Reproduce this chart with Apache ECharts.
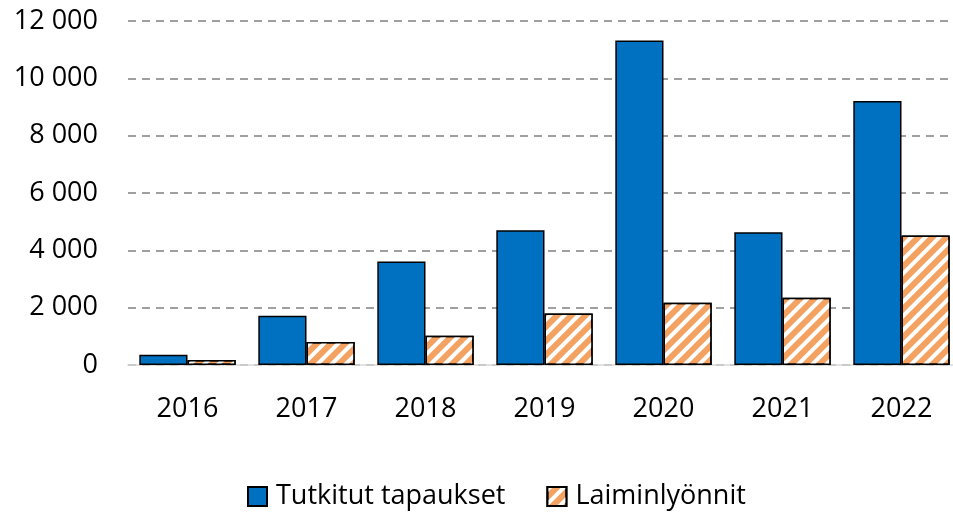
<!DOCTYPE html>
<html>
<head>
<meta charset="utf-8">
<script src="https://cdn.jsdelivr.net/npm/echarts@6/dist/echarts.min.js"></script>
<style>
  html, body { margin: 0; padding: 0; background: #fff; overflow: hidden; }
  #main { width: 961px; height: 513px; }
</style>
</head>
<body>
<div id="main"></div>
<script>
var years = ['2016', '2017', '2018', '2019', '2020', '2021', '2022'];
var tutkitut = [355, 1720, 3610, 4700, 11320, 4630, 9210];
var laiminlyonnit = [175, 805, 1020, 1795, 2175, 2350, 4520];

var chartDom = document.getElementById('main');
var myChart = echarts.init(chartDom, null, { renderer: 'canvas' });
var font = '"Open Sans", "Noto Sans", sans-serif';

var option = {
    animation: false,
    textStyle: { fontFamily: font },
    grid: { left: 128, right: 0, top: 21, bottom: 148 },
    legend: {
        top: 483,
        left: 247,
        padding: 0,
        icon: 'rect',
        itemWidth: 19,
        itemHeight: 19,
        itemGap: 41,
        textStyle: { fontSize: 27, color: '#000', fontFamily: font, padding: [0, 0, 0, 4] },
        data: ['Tutkitut tapaukset', 'Laiminlyönnit']
    },
    xAxis: {
        type: 'category',
        data: years,
        axisTick: { show: false },
        axisLine: { lineStyle: { color: '#d9d9d9', width: 1.5 } },
        axisLabel: { fontSize: 27, color: '#000', margin: 31 }
    },
    yAxis: {
        type: 'value',
        min: 0,
        max: 12000,
        interval: 2000,
        axisLabel: {
            fontSize: 27,
            color: '#000',
            margin: 30,
            formatter: function (v) {
                return v >= 1000 ? Math.floor(v / 1000) + ' ' + String(v % 1000).padStart(3, '0') : String(v);
            }
        },
        splitLine: { lineStyle: { color: '#808080', type: [8, 6], width: 1.5 } }
    },
    series: [
        {
            name: 'Tutkitut tapaukset',
            type: 'bar',
            data: tutkitut,
            barGap: '0%',
            barCategoryGap: '19%',
            itemStyle: { color: '#0070C0', borderColor: '#000', borderWidth: 1.5 }
        },
        {
            name: 'Laiminlyönnit',
            type: 'bar',
            data: laiminlyonnit,
            itemStyle: {
                color: '#F4A261',
                borderColor: '#000',
                borderWidth: 1.5,
                decal: {
                    symbol: 'rect',
                    color: '#ffffff',
                    dashArrayX: [1, 0],
                    dashArrayY: [4, 6],
                    rotation: -Math.PI / 4
                }
            }
        }
    ]
};

option && myChart.setOption(option);
</script>
</body>
</html>
